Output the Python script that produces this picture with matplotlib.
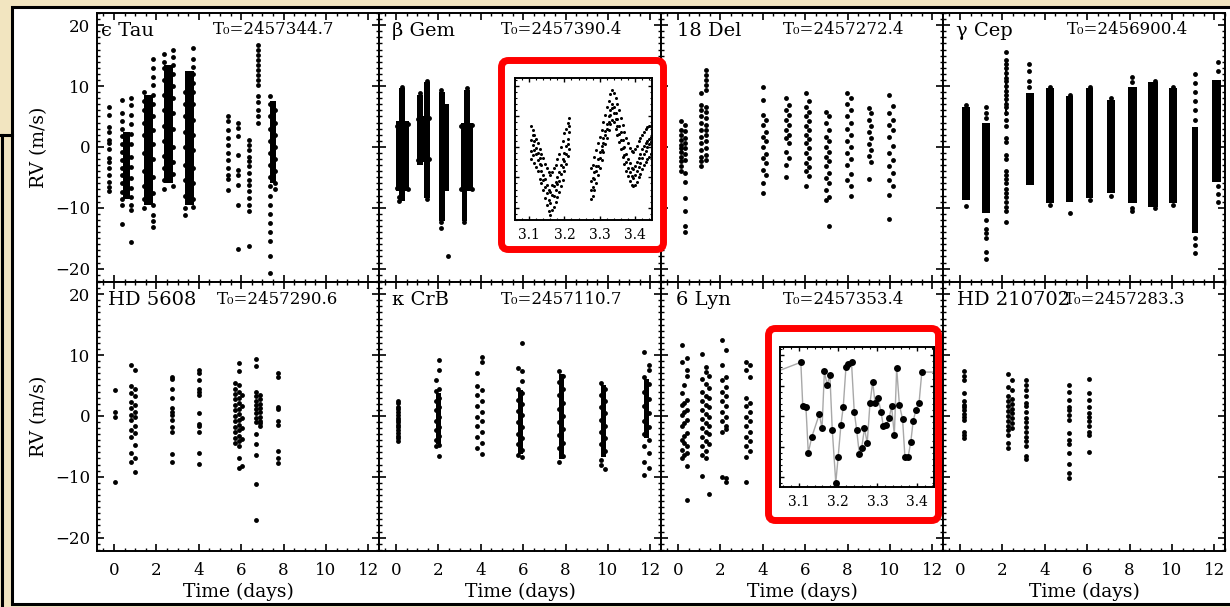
import matplotlib
matplotlib.use('Agg')
import matplotlib.pyplot as plt
from matplotlib.patches import Rectangle, FancyBboxPatch
from matplotlib.lines import Line2D
from matplotlib.ticker import MultipleLocator, NullFormatter
from matplotlib.transforms import IdentityTransform

plt.rcParams.update({
    'font.family': 'DejaVu Serif',
    'font.size': 12,
    'xtick.direction': 'in',
    'ytick.direction': 'in',
    'xtick.top': True,
    'ytick.right': True,
    'axes.linewidth': 1.4,
})

# ---- panel texts ----
stars = ['ϵ Tau', 'β Gem', '18 Del', 'γ Cep', 'HD 5608', 'κ CrB', '6 Lyn', 'HD 210702']
t0_labels = ['T₀=2457344.7', 'T₀=2457390.4', 'T₀=2457272.4', 'T₀=2456900.4',
             'T₀=2457290.6', 'T₀=2457110.7', 'T₀=2457353.4', 'T₀=2457283.3']
x_ticks = [0, 2, 4, 6, 8, 10, 12]
y_ticks = [-20, -10, 0, 10, 20]

# ---- data: nights as (time, [rv ...]); dense nights as (time, width, rv_lo, rv_hi) ----
eps_tau_bands = [(0.60, 0.35, -8.5, 2.5), (1.62, 0.42, -9.5, 8.5), (2.57, 0.42, -6.0, 13.5),
                 (3.57, 0.42, -9.5, 12.5), (7.50, 0.28, -6.0, 7.5)]
eps_tau_nights = [
    (-0.22, [6.5, 5.2, 3.3, 2.5, 1.2, 0.6, -0.4, -1.8, -2.5, -3.4, -4.7, -5.8, -6.6, -7.3]),
    (0.40, [7.7, 5.5, 4.2, 3.0, 1.8, 0.5, -0.8, -2.2, -3.5, -4.6, -6.0, -7.4, -8.6, -9.5, -12.7]),
    (0.80, [8.0, 6.9, 5.2, 3.8, 2.1, 0.4, -1.7, -3.3, -5.1, -6.8, -8.2, -9.6, -10.3, -15.7]),
    (1.42, [9.0, 7.5, 6.0, 4.0, 2.0, -1.0, -4.0, -6.5, -8.5, -10.0]),
    (1.82, [14.5, 13.0, 11.5, 10.2, 8.6, 7.0, 5.0, 2.8, 0.5, -2.0, -5.0, -7.5, -9.6, -11.2, -12.2, -13.1]),
    (2.37, [15.2, 14.0, 13.0, 11.0, 8.5, 6.0, 3.5, 1.0, -1.5, -3.5, -5.5, -7.0]),
    (2.78, [16.0, 14.8, 13.5, 12.0, 10.0, 8.0, 5.5, 3.0, 0.0, -2.5, -4.5, -6.5]),
    (3.35, [9.0, 7.0, 5.0, 2.5, 0.0, -3.0, -5.5, -8.0, -10.0, -11.2]),
    (3.75, [16.3, 14.5, 13.2, 12.0, 10.5, 9.0, 7.0, 4.5, 2.0, -0.5, -3.5, -6.0, -8.5, -9.8]),
    (5.36, [5.1, 4.2, 2.8, 1.5, 0.3, -1.0, -2.2, -3.5, -4.6, -5.3, -7.1]),
    (5.83, [3.9, 3.1, 1.8, -1.3, -3.8, -4.6, -6.2, -9.5, -16.8]),
    (6.38, [1.1, 0.3, -0.5, -1.6, -2.4, -3.2, -4.3, -5.4, -6.2, -7.3, -8.4, -9.5, -10.6, -16.3]),
    (6.78, [16.7, 15.9, 15.1, 14.3, 13.4, 12.6, 11.8, 11.0, 10.2, 8.4, 7.4, 6.1, 5.0, 3.9]),
    (7.35, [8.3, 7.0, 5.0, 3.0, 1.0, -1.0, -3.0, -5.0, -6.5, -8.0, -9.5, -11.0, -12.5, -14.0,
            -15.5, -18.0, -20.7]),
    (7.60, [6.0, 4.0, 2.0, 0.0, -2.0, -4.0, -6.0, -7.0]),
]

beta_gem_bands = [(0.28, 0.26, -8.9, 9.6), (0.31, 0.60, -7.3, 4.2),
                  (1.14, 0.26, -3.0, 8.5), (1.46, 0.25, -8.4, 10.7), (1.30, 0.55, -2.5, 5.0),
                  (2.16, 0.26, -12.1, 9.0), (2.42, 0.20, -7.3, 7.0),
                  (3.35, 0.28, 3.0, 9.4), (3.34, 0.55, -7.3, 4.0), (3.22, 0.22, -12.1, -6.0)]
beta_gem_nights = [
    (0.28, [9.9, 9.3]), (0.12, [-8.2, -8.9]), (1.14, [8.9]), (1.46, [10.9, 10.3, -8.6]),
    (2.14, [9.3, -12.4, -13.3]), (2.44, [-17.9]), (3.35, [9.7]), (3.22, [-12.3]),
    (0.05, [3.5, -6.8]), (0.58, [3.8, -6.9]), (1.05, [4.6, -2.2]), (1.56, [4.8, -2.0]),
    (3.08, [3.5, -6.9]), (3.60, [3.6, -7.0]),
]

del18_bands = []
del18_nights = [
    (0.12, [4.2, 2.8, 2.0, 1.2, 0.3, -0.2, -0.8, -1.6, -2.4, -3.2, -4.0]),
    (0.35, [3.6, 2.6, 1.5, 0.6, -0.2, -1.1, -2.1, -4.3, -5.7, -8.4, -10.6, -13.0, -14.0]),
    (1.10, [8.8, 6.9, 6.1, 5.0, 3.9, 2.8, 1.7, 0.6, -0.5, -1.6, -2.4, -3.2]),
    (1.30, [12.6, 11.8, 11.0, 10.2, 9.3, 6.6, 5.8, 4.7, 3.6, 2.8, 2.0, 0.9, -0.2, -1.3, -2.1]),
    (4.03, [9.9, 7.7, 5.3, 3.6, 1.7, 0.0, -1.9, -3.8, -6.0, -7.5]),
    (4.15, [4.4, 2.5, 0.9, -1.1, -2.7, -4.6]),
    (5.08, [8.1, 6.1, 4.4, 2.8, 1.5, -0.8, -2.9, -4.9]),
    (5.25, [6.9, 5.3, 3.6, 2.0, 0.6, -1.9]),
    (6.02, [8.8, 6.5, 5.0, 3.5, 2.0, 0.6, -1.0, -2.6, -4.0, -6.5]),
    (6.20, [7.5, 5.8, 4.2, 2.8, 1.3, -0.2, -1.8, -3.3, -4.8]),
    (6.97, [5.8, 3.9, 1.7, 0.0, -1.6, -3.2, -5.1, -7.1, -8.7]),
    (7.12, [5.0, 2.8, 0.9, -0.8, -2.4, -4.3, -6.0, -8.2, -13.0]),
    (7.98, [8.8, 7.0, 5.0, 3.0, 1.0, -1.0, -3.0, -5.5]),
    (8.18, [8.0, 6.0, 4.0, 2.0, 0.0, -2.0, -4.5, -6.5, -8.1]),
    (9.02, [6.4, 4.5, 2.5, 0.5, -1.5, -5.3]),
    (9.12, [5.5, 3.5, 1.5, -0.5, -2.5]),
    (9.97, [8.6, 5.6, 3.6, 1.7, -1.0, -3.2, -5.4, -7.9, -11.8]),
    (10.12, [6.7, 4.5, 2.8, 0.1, -2.1, -4.3, -6.5]),
]

gam_cep_bands = [(0.27, 0.38, -8.7, 6.6), (1.22, 0.38, -10.9, 4.0), (2.17, 0.12, 5.0, 14.5),
                 (3.30, 0.34, -6.3, 8.8), (4.25, 0.34, -9.2, 9.6), (5.17, 0.32, -9.0, 8.3),
                 (6.11, 0.32, -8.4, 9.6), (7.13, 0.40, -7.6, 7.7), (8.13, 0.40, -9.2, 9.9),
                 (9.12, 0.46, -9.8, 10.7), (10.05, 0.34, -9.2, 9.6), (11.08, 0.30, -14.2, 3.3),
                 (12.10, 0.46, -5.7, 11.0)]
gam_cep_nights = [
    (0.30, [-9.7, 6.9]),
    (1.25, [6.5, 5.5, 4.8, -12.0, -13.5, -14.2, -15.0, -17.2, -18.5]),
    (2.16, [15.6, 14.2, 13.6, 12.9, 12.1, 11.4, 10.8, 10.0, 9.2, 8.6, 7.9, 7.1, 6.5, 5.6, 4.4,
            3.5, 1.5, 0.8, -1.3, -2.0, -3.9, -4.6, -5.3, -6.0, -6.9, -7.5, -8.3, -9.1, -9.8,
            -10.6, -12.3]),
    (3.25, [13.7, 12.5, 10.9, 9.8]),
    (4.25, [9.9, -9.5]),
    (5.20, [8.6, -10.9]),
    (6.11, [9.9, -8.8]),
    (7.13, [8.0, -8.0]),
    (8.10, [11.5, 10.6, -10.0, -10.6]),
    (9.20, [10.9, -10.1]),
    (10.05, [9.9, -9.6]),
    (11.08, [11.9, 10.5, 9.0, 7.5, 6.0, 4.5, -15.0, -16.2, -17.4]),
    (12.15, [13.9, 12.5, -6.5, -7.8, -9.0]),
]

hd5608_bands = []
hd5608_nights = [
    (0.05, [4.3, 0.7, -0.2, -10.9]),
    (0.80, [8.4, 4.9, 3.7, 2.3, 1.3, 0.2, -0.7, -2.3, -3.4, -6.1, -7.5]),
    (0.98, [7.5, 4.5, 3.2, 1.8, 0.7, -0.1, -1.7, -2.8, -4.8, -6.9, -9.3]),
    (2.74, [6.4, 6.0, 4.5, 2.9, 1.3, 0.7, 0.2, -0.7, -1.8, -2.6, -6.2, -7.5]),
    (4.00, [7.6, 7.1, 5.9, 4.5, 3.9, 3.4, 0.4, -1.3, -1.6, -2.6, -6.1, -7.9]),
    (5.70, [5.4, 4.5, 3.6, 2.7, 1.8, 0.9, 0.0, -0.9, -1.8, -2.7, -3.6, -4.5]),
    (5.92, [8.7, 7.4, 5.0, 4.0, 3.0, 2.2, 1.2, 0.3, -0.6, -1.5, -2.4, -3.3, -4.2, -5.0, -7.0, -8.6]),
    (6.05, [3.5, 1.6, -0.4, -2.0, -3.8, -8.2]),
    (6.72, [9.4, 8.2, 3.9, 3.2, 2.5, 1.8, 1.1, 0.4, -0.3, -1.0, -2.9, -4.7, -6.4, -11.2, -17.1]),
    (6.90, [3.5, 2.8, 2.0, 1.3, 0.6, -0.1, -0.8, -1.2, -1.6]),
    (7.72, [7.0, 6.4, 1.5, 1.1, -0.9, -1.5, -5.7, -7.0, -7.7]),
]

kap_crb_bands = [(2.00, 0.22, -4.6, 3.8), (5.86, 0.22, -6.3, 4.2), (7.80, 0.22, -7.1, 6.9),
                 (9.78, 0.22, -6.8, 5.0), (11.80, 0.25, -3.6, 6.0)]
kap_crb_nights = [
    (0.08, [2.5, 2.1, 1.5, 1.1, 0.6, 0.2, -0.3, -0.7, -1.0, -1.5, -1.9, -2.4, -2.8, -3.3, -3.7, -4.2]),
    (1.88, [5.9, 4.1, 2.5, 0.9, -0.8, -2.4, -4.0, -5.0]),
    (2.05, [9.2, 7.6, 4.5, 3.0, 1.4, -0.2, -1.8, -3.3, -4.8, -6.6]),
    (3.80, [7.0, 4.9, 3.4, 1.6, -0.1, -1.7, -3.4, -5.3]),
    (4.05, [9.6, 8.9, 4.3, 2.4, 0.7, -0.9, -2.6, -4.5, -6.2]),
    (5.75, [7.8, 4.5, 2.6, 0.8, -1.0, -2.9, -4.7, -6.5]),
    (5.95, [11.9, 7.3, 5.7, 3.8, 1.9, 0.1, -1.8, -3.7, -5.6, -6.7]),
    (7.70, [7.3, 5.5, 3.4, 1.2, -1.0, -3.2, -5.3, -7.5]),
    (7.88, [6.6, 4.4, 2.2, 0.0, -2.2, -4.4, -6.6]),
    (9.68, [5.4, 3.5, 1.5, -0.6, -2.6, -4.7, -7.2, -8.0]),
    (9.88, [4.4, 2.4, 0.4, -1.6, -3.7, -5.8, -8.8]),
    (11.68, [10.5, 6.4, 4.0, 1.6, -0.8, -3.0, -5.0, -7.5, -9.7]),
    (11.92, [8.4, 7.6, 5.2, 2.8, 0.4, -1.9, -3.9, -6.1, -8.6]),
]

lyn6_bands = []
lyn6_nights = [
    (0.20, [11.6, 8.9, 3.7, 1.8, 0.2, -1.7, -3.9, -5.6, -6.9]),
    (0.30, [5.0, 2.2, 0.6, -1.2, -3.3, -4.5, -6.5]),
    (0.42, [9.5, 7.5, 6.5, 2.6, 1.0, -0.7, -2.8, -5.0, -6.1, -8.3, -13.8]),
    (1.15, [10.2, 6.0, 4.0, 2.5, 1.0, -0.5, -2.0, -3.5, -5.0, -6.5, -9.8]),
    (1.30, [8.0, 7.2, 5.2, 3.3, 1.8, 0.3, -1.2, -2.7, -4.2, -5.8, -7.0]),
    (1.45, [6.5, 4.6, 2.9, 1.4, -0.1, -1.6, -3.0, -4.6, -12.8]),
    (2.10, [12.4, 8.3, 5.9, 4.0, 2.4, 0.7, -0.9, -2.6, -10.0]),
    (2.28, [10.8, 6.4, 4.8, 3.2, 1.6, -0.1, -1.7, -2.2, -10.2, -10.9]),
    (3.20, [8.9, 7.5, 2.9, 1.6, -0.1, -1.7, -3.4, -5.0, -6.7, -10.8]),
    (3.40, [8.3, 6.4, 2.1, 0.7, -0.9, -2.6, -4.2, -5.8]),
]

hd210702_bands = []
hd210702_nights = [
    (0.18, [7.3, 6.6, 5.9, 3.8, 2.4, 1.8, 1.4, 1.0, 0.3, -0.1, -0.7, -2.6, -3.1, -3.7]),
    (2.28, [6.9, 4.7, 3.2, 2.4, 1.6, 0.8, 0.0, -0.8, -1.6, -2.3, -3.1, -4.5, -5.3]),
    (2.45, [5.9, 4.3, 2.8, 2.0, 1.2, 0.4, -0.4, -1.2, -2.0]),
    (3.12, [5.9, 5.1, 4.3, 3.2, 2.2, 1.6, 0.7, -0.4, -1.0, -1.8, -2.6, -3.4, -4.2, -5.0, -6.6, -7.1]),
    (5.14, [5.1, 4.0, 2.6, 1.5, 1.0, 0.2, -0.7, -2.8, -3.9, -4.6, -6.1, -7.9, -9.4, -10.2]),
    (6.08, [6.0, 3.7, 2.6, 1.5, 0.4, -0.1, -0.9, -1.7, -2.6, -3.1, -6.0]),
]

# inset: beta Gem, single night zoom
gem_zoom = [
    (3.105, [3.4, 1.2, -0.6, -2.0]), (3.110, [2.8, 0.3, -1.4, 1.9]), (3.115, [2.0, -0.5, -2.6, 0.9]),
    (3.120, [1.3, -1.2, -3.3, -0.2]), (3.125, [0.6, -2.1, -4.0, -1.0]), (3.130, [-0.4, -2.8, -5.2, -1.9]),
    (3.135, [-1.2, -3.9, -6.0, -3.0]), (3.140, [-1.9, -4.6, -7.1, -5.5]), (3.145, [-2.8, -5.3, -8.4, -6.6]),
    (3.150, [-3.5, -6.2, -9.6, -7.5]), (3.155, [-4.1, -7.0, -10.5, -8.8]), (3.160, [-4.6, -7.4, -11.1, -9.2]),
    (3.165, [-4.2, -7.9, -10.4, -6.3]), (3.170, [-3.5, -6.4, -9.8, -8.1]), (3.175, [-2.9, -5.8, -9.0, -7.0]),
    (3.180, [-2.0, -5.0, -8.3, -6.1]), (3.185, [-1.1, -4.1, -7.4, -5.6]), (3.190, [0.0, -3.0, -6.5, -4.4]),
    (3.195, [1.0, -2.0, -5.4, -3.3]), (3.200, [2.2, -1.0, -4.0, -2.4]), (3.205, [3.0, 0.2, -2.8, -1.2]),
    (3.210, [3.9, 1.3, -1.5, 0.4]), (3.213, [4.7, 2.5, -0.3, 3.4]),
    (3.275, [-3.4, -5.6, -8.5, -7.0]), (3.280, [-3.0, -5.1, -8.0, -6.6]), (3.285, [-1.6, -4.2, -7.0, -5.3]),
    (3.290, [-0.5, -3.2, -5.9, -4.0]), (3.295, [0.6, -2.0, -4.6, -3.1]), (3.300, [1.6, -0.9, -3.4, -1.8]),
    (3.305, [2.8, 0.2, -2.1, -0.5]), (3.310, [4.0, 1.4, -0.8, 0.6]), (3.315, [5.2, 2.6, 0.4, 1.9]),
    (3.320, [6.6, 3.8, 1.5, 3.0]), (3.325, [7.6, 5.0, 2.8, 4.1]), (3.330, [8.6, 6.1, 3.8, 5.2]),
    (3.335, [9.3, 7.0, 4.4, 6.3]), (3.340, [8.8, 6.5, 4.0, 5.5]), (3.345, [8.0, 5.6, 3.0, 4.5]),
    (3.350, [7.0, 4.6, 2.0, 3.4]), (3.355, [6.0, 3.5, 0.8, 2.1]), (3.360, [4.8, 2.4, -0.4, 1.1]),
    (3.365, [3.6, 1.2, -1.6, -0.2]), (3.370, [2.5, 0.0, -2.8, -1.4]), (3.375, [1.5, -1.1, -3.9, -2.5]),
    (3.380, [0.6, -2.0, -4.8, -3.4]), (3.385, [-0.2, -2.7, -5.6, -4.2]), (3.390, [-0.6, -3.4, -6.3, -4.8]),
    (3.395, [-0.8, -3.6, -6.5, -5.1]), (3.400, [-0.4, -3.2, -6.2, -4.6]), (3.405, [0.2, -2.5, -5.7, -4.0]),
    (3.410, [0.9, -1.8, -5.0, -3.3]), (3.415, [1.4, -1.1, -4.4, -2.6]), (3.420, [2.0, -0.4, -3.6, -1.9]),
    (3.425, [2.5, 0.2, -3.0, -1.2]), (3.430, [2.9, 0.7, -2.5, -0.6]), (3.435, [3.2, 1.0, -2.0, -0.1]),
    (3.440, [3.4, 1.3, -1.6, 0.4]), (3.445, [3.5, 1.6, -1.2, 0.8]),
]

# inset: 6 Lyn, single night zoom
lyn_zoom_t = [3.000, 3.105, 3.110, 3.118, 3.124, 3.133, 3.152, 3.159, 3.165, 3.172, 3.179, 3.185,
              3.194, 3.200, 3.207, 3.213, 3.220, 3.226, 3.234, 3.241, 3.247, 3.254, 3.260, 3.267,
              3.274, 3.281, 3.288, 3.294, 3.302, 3.309, 3.315, 3.322, 3.330, 3.336, 3.343, 3.349,
              3.356, 3.364, 3.370, 3.378, 3.385, 3.391, 3.398, 3.406, 3.413, 3.500]
lyn_zoom_rv = [6.2, 8.8, 1.6, 1.5, -6.0, -3.4, 0.3, -2.0, 7.3, 5.1, 6.7, -2.2,
               -10.9, -6.7, -1.5, 1.5, 8.1, 8.6, 8.8, 0.7, -2.2, -6.2, -5.2, -2.0,
               -4.4, 2.1, 5.6, 2.1, 2.9, 0.7, -1.6, -1.5, -0.3, 1.6, -3.1, 7.8,
               1.8, -0.5, -6.7, -6.7, -4.2, -0.8, 1.0, 2.2, 7.2, 7.2]

all_bands = [eps_tau_bands, beta_gem_bands, del18_bands, gam_cep_bands,
             hd5608_bands, kap_crb_bands, lyn6_bands, hd210702_bands]
all_nights = [eps_tau_nights, beta_gem_nights, del18_nights, gam_cep_nights,
              hd5608_nights, kap_crb_nights, lyn6_nights, hd210702_nights]

# ---- layout (pixels of the 1230x607 picture) ----
W, H = 1230, 607
BEIGE = '#f2e5c0'
col_left = [97, 379, 661, 943]
col_w = 282
row_top = [13, 282]
row_h = 269
name_dx = [4, 13, 16, 13, 11, 13, 15, 14]
t0_dx = [116, 122, 122, 124, 120, 122, 122, 121]


def px_box(x0, y0, x1, y1):
    return [x0 / W, 1 - y1 / H, (x1 - x0) / W, (y1 - y0) / H]


fig = plt.figure(figsize=(W / 100, H / 100), dpi=100)
fig.patch.set_facecolor(BEIGE)

# slide frame
fig.add_artist(Rectangle((11.5, 3), 1240, H - 3 - 6.5, transform=IdentityTransform(),
                         facecolor='white', edgecolor='black', lw=2.2, zorder=-5))
fig.add_artist(Line2D([1.5, 1.5], [0, H - 135], transform=IdentityTransform(),
                      color='black', lw=2.2, zorder=-4))
fig.add_artist(Line2D([0, 11.5], [H - 135, H - 135], transform=IdentityTransform(),
                      color='black', lw=2.2, zorder=-4))

for i in range(8):
    r, c = divmod(i, 4)
    x0, y0 = col_left[c], row_top[r]
    ax = fig.add_axes(px_box(x0, y0, x0 + col_w, y0 + row_h))
    ax.set_facecolor('white')

    for t, w, lo, hi in all_bands[i]:
        ax.bar(t, hi - lo, width=w, bottom=lo, color='black', linewidth=0, zorder=2)
    for t, vals in all_nights[i]:
        ax.plot([t] * len(vals), vals, 'o', ms=3.5, color='black', mec='none', zorder=3)

    ax.set_xlim(-0.8, 12.5)
    ax.set_ylim(-22.2, 22.0)
    ax.set_xticks(x_ticks)
    ax.set_yticks(y_ticks)
    ax.xaxis.set_minor_locator(MultipleLocator(0.5))
    ax.yaxis.set_minor_locator(MultipleLocator(1))
    ax.tick_params(which='major', length=5, width=1.2, labelsize=12)
    ax.tick_params(which='minor', length=2.2, width=1.0)
    ax.tick_params(axis='x', pad=8)
    ax.tick_params(axis='y', pad=5)
    for sp in ax.spines.values():
        sp.set_linewidth(1.4)

    if c == 0:
        ax.set_ylabel('RV (m/s)', fontsize=13.5)
        ax.yaxis.set_label_coords(-0.175, 0.5)
    else:
        ax.tick_params(labelleft=False)
    if r == 1:
        ax.set_xlabel('Time (days)', fontsize=13.5)
        ax.xaxis.set_label_coords(0.5, -0.118)
    else:
        ax.tick_params(labelbottom=False)

    ax.text(name_dx[i] / col_w, 1 - 18 / row_h, stars[i], transform=ax.transAxes,
            fontsize=14, ha='left', va='center', zorder=4)
    ax.text(t0_dx[i] / col_w, 1 - 17 / row_h, t0_labels[i], transform=ax.transAxes,
            fontsize=12, ha='left', va='center', zorder=4)

# red frames around the zoomed insets
for (bx0, by0, bx1, by1) in [(501.5, 60.5, 663.5, 249.5), (768.5, 328.5, 938.5, 520.5)]:
    fig.add_artist(FancyBboxPatch((bx0, H - by1), bx1 - bx0, by1 - by0,
                                  boxstyle='round,pad=0,rounding_size=7',
                                  transform=IdentityTransform(), facecolor='white',
                                  edgecolor='#ff0000', lw=5, zorder=2))


def style_inset(ax):
    ax.xaxis.set_major_locator(MultipleLocator(0.1))
    ax.xaxis.set_minor_locator(MultipleLocator(0.02))
    ax.yaxis.set_major_locator(MultipleLocator(5))
    ax.yaxis.set_minor_locator(MultipleLocator(1))
    ax.yaxis.set_major_formatter(NullFormatter())
    ax.tick_params(which='major', length=3, width=1.0, labelsize=10, pad=6)
    ax.tick_params(which='minor', length=1.5, width=0.8)
    for sp in ax.spines.values():
        sp.set_linewidth(1.4)


ax_in1 = fig.add_axes(px_box(515, 78, 652, 220), zorder=3)
for t, vals in gem_zoom:
    ax_in1.plot([t] * len(vals), vals, 'o', ms=2.2, color='black', mec='none')
ax_in1.set_xlim(3.06, 3.448)
ax_in1.set_ylim(-12.0, 11.3)
style_inset(ax_in1)

ax_in2 = fig.add_axes(px_box(780, 347, 934, 487), zorder=3)
ax_in2.plot(lyn_zoom_t, lyn_zoom_rv, '-', color='#a8a8a8', lw=1.0, zorder=1)
ax_in2.plot(lyn_zoom_t, lyn_zoom_rv, 'o', ms=5, color='black', mec='none', zorder=2)
ax_in2.set_xlim(3.052, 3.444)
ax_in2.set_ylim(-11.6, 11.3)
style_inset(ax_in2)

fig.savefig('out.png', dpi=100, facecolor=fig.get_facecolor())
